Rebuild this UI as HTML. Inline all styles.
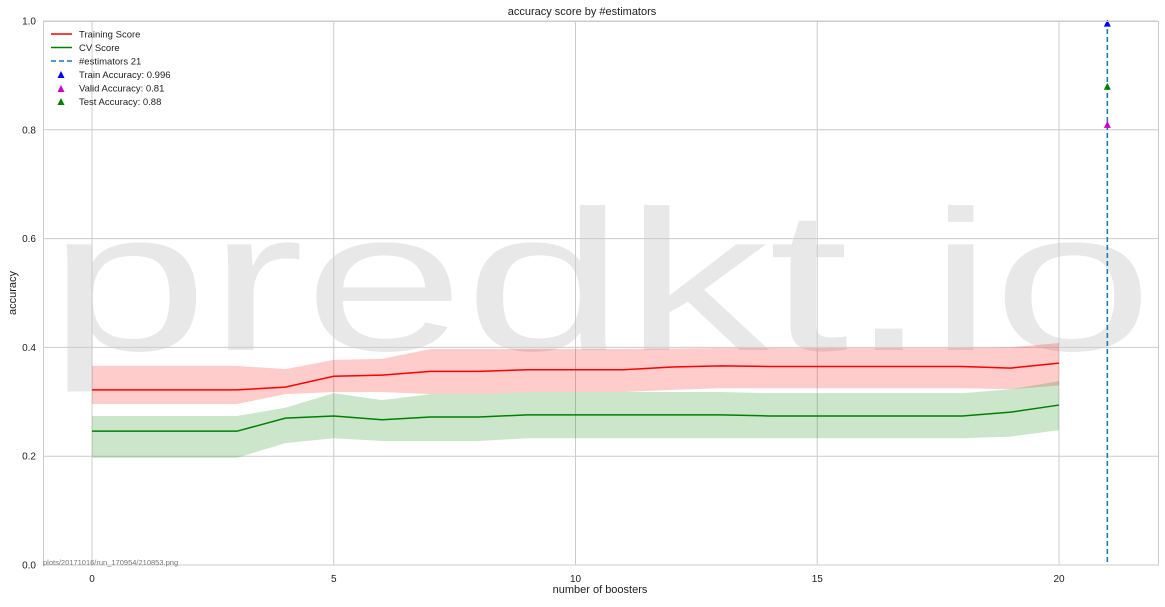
<!DOCTYPE html>
<html><head><meta charset="utf-8"><style>
body{margin:0;background:#fff;}
svg text{font-family:"Liberation Sans",sans-serif;}
</style></head><body>
<svg id="chart" width="1165" height="602" viewBox="0 0 1165 602" xmlns="http://www.w3.org/2000/svg">
<rect x="0" y="0" width="1165" height="602" fill="#fff"/>
<text x="48" y="350" font-size="200" fill="#e8e8e8" textLength="1105" lengthAdjust="spacingAndGlyphs">predkt.io</text>
<g id="grid"></g>
<g id="bands"></g>
<g id="lines"></g>
<g id="marks"></g>
<rect x="43.5" y="21.5" width="1115" height="543.5" fill="none" stroke="#ccc"/>
<text x="582" y="15" font-size="11" text-anchor="middle" fill="#222">accuracy score by #estimators</text>
<text x="600" y="593" font-size="11" text-anchor="middle" fill="#222">number of boosters</text>
<text transform="translate(16,293) rotate(-90)" font-size="11" text-anchor="middle" fill="#222">accuracy</text>
<text x="43" y="565" font-size="7.5" fill="#777">plots/20171016/run_170954/210853.png</text>
<g>
<line x1="51" y1="34" x2="72" y2="34" stroke="red" stroke-width="1.6"/>
<text x="79" y="37.5" font-size="9.5" fill="#222">Training Score</text>
<line x1="51" y1="47.5" x2="72" y2="47.5" stroke="green" stroke-width="1.6"/>
<text x="79" y="51" font-size="9.5" fill="#222">CV Score</text>
<line x1="51" y1="61" x2="72" y2="61" stroke="#1f77b4" stroke-width="1.6" stroke-dasharray="5,3"/>
<text x="79" y="64.5" font-size="9.5" fill="#222">#estimators 21</text>
<polygon points="61,71 57.5,78 64.5,78" fill="blue"/>
<text x="79" y="78" font-size="9.5" fill="#222">Train Accuracy: 0.996</text>
<polygon points="61,85 57.5,92 64.5,92" fill="#c0c"/>
<text x="79" y="91.5" font-size="9.5" fill="#222">Valid Accuracy: 0.81</text>
<polygon points="61,98 57.5,105 64.5,105" fill="green"/>
<text x="79" y="105" font-size="9.5" fill="#222">Test Accuracy: 0.88</text>
</g>
</svg>
<script>
const xs = [0,1,2,3,4,5,6,7,8,9,10,11,12,13,14,15,16,17,18,19,20];
const trainMean = [0.322,0.322,0.322,0.322,0.327,0.347,0.349,0.356,0.356,0.359,0.359,0.359,0.364,0.366,0.365,0.365,0.365,0.365,0.365,0.362,0.371];
const trainUpper = [0.366,0.366,0.366,0.366,0.360,0.377,0.379,0.397,0.397,0.397,0.397,0.397,0.398,0.399,0.399,0.399,0.399,0.399,0.399,0.400,0.408];
const trainLower = [0.296,0.296,0.296,0.296,0.314,0.318,0.318,0.314,0.314,0.318,0.318,0.318,0.322,0.325,0.325,0.325,0.325,0.325,0.325,0.323,0.330];
const cvMean = [0.246,0.246,0.246,0.246,0.270,0.274,0.267,0.272,0.272,0.276,0.276,0.276,0.276,0.276,0.274,0.274,0.274,0.274,0.274,0.281,0.294];
const cvUpper = [0.274,0.274,0.274,0.274,0.289,0.316,0.303,0.314,0.314,0.318,0.318,0.318,0.318,0.318,0.316,0.316,0.316,0.316,0.316,0.323,0.338];
const cvLower = [0.197,0.197,0.197,0.197,0.224,0.233,0.228,0.228,0.228,0.233,0.233,0.233,0.233,0.233,0.233,0.233,0.233,0.233,0.233,0.236,0.248];
const bestX = 21;
const trainAcc = 0.996, validAcc = 0.81, testAcc = 0.88;
const xTicks = [0,5,10,15,20];
const yTicks = [0,0.2,0.4,0.6,0.8,1.0];
const yTickLabels = ["0.0","0.2","0.4","0.6","0.8","1.0"];

const NS="http://www.w3.org/2000/svg";
const X = v => 92 + (v)*48.35;
const Y = v => 565 - v*544;
function mk(tag, parent){const e=document.createElementNS(NS,tag);document.getElementById(parent).appendChild(e);return e;}
xTicks.forEach(t=>{
  const l=mk('line','grid');
  
  
  l.setAttribute('x1',X(t));l.setAttribute('x2',X(t));l.setAttribute('y1',21);l.setAttribute('y2',565);l.setAttribute('stroke','#ccc');
  const tx=mk('text','grid');
  
  
  tx.setAttribute('x',X(t));tx.setAttribute('y',582);tx.setAttribute('font-size','10');tx.setAttribute('text-anchor','middle');tx.setAttribute('fill','#222');tx.textContent=t;
});
yTicks.forEach((t,i)=>{
  const l=mk('line','grid');
  
  
  l.setAttribute('x1',43);l.setAttribute('x2',1158);l.setAttribute('y1',Y(t));l.setAttribute('y2',Y(t));l.setAttribute('stroke','#ccc');
  const tx=mk('text','grid');
  
  
  tx.setAttribute('x',36);tx.setAttribute('y',Y(t)+3.5);tx.setAttribute('font-size','10');tx.setAttribute('text-anchor','end');tx.setAttribute('fill','#222');tx.textContent=yTickLabels[i];
});
function band(up,lo,color,name){
  let pts=xs.map((x,i)=>X(x)+','+Y(up[i]));
  pts=pts.concat(xs.slice().reverse().map((x,j)=>{const i=xs.length-1-j;return X(x)+','+Y(lo[i]);}));
  const p=mk('polygon','bands');
  
  
  p.setAttribute('points',pts.join(' '));p.setAttribute('fill',color);p.setAttribute('fill-opacity','0.2');
}
band(trainUpper,trainLower,'red','training-std-band');
band(cvUpper,cvLower,'green','cv-std-band');
function line(vals,color,name){
  const p=mk('polyline','lines');
  
  
  p.setAttribute('points',xs.map((x,i)=>X(x)+','+Y(vals[i])).join(' '));
  p.setAttribute('fill','none');p.setAttribute('stroke',color);p.setAttribute('stroke-width','1.5');
}
line(trainMean,'red','training-score-line');
line(cvMean,'green','cv-score-line');
const vl=mk('line','marks');


vl.setAttribute('x1',X(bestX));vl.setAttribute('x2',X(bestX));vl.setAttribute('y1',21);vl.setAttribute('y2',565);
vl.setAttribute('stroke','#1f77b4');vl.setAttribute('stroke-width','1.6');vl.setAttribute('stroke-dasharray','5,3');
[[trainAcc,'blue','train-accuracy-marker'],[validAcc,'#c0c','valid-accuracy-marker'],[testAcc,'green','test-accuracy-marker']].forEach(([v,c,n])=>{
  const p=mk('polygon','marks');
  
  
  const cx=X(bestX),cy=Y(v);
  p.setAttribute('points',`${cx},${cy-3.5} ${cx-3.5},${cy+3.5} ${cx+3.5},${cy+3.5}`);p.setAttribute('fill',c);
});
</script>
</body></html>
